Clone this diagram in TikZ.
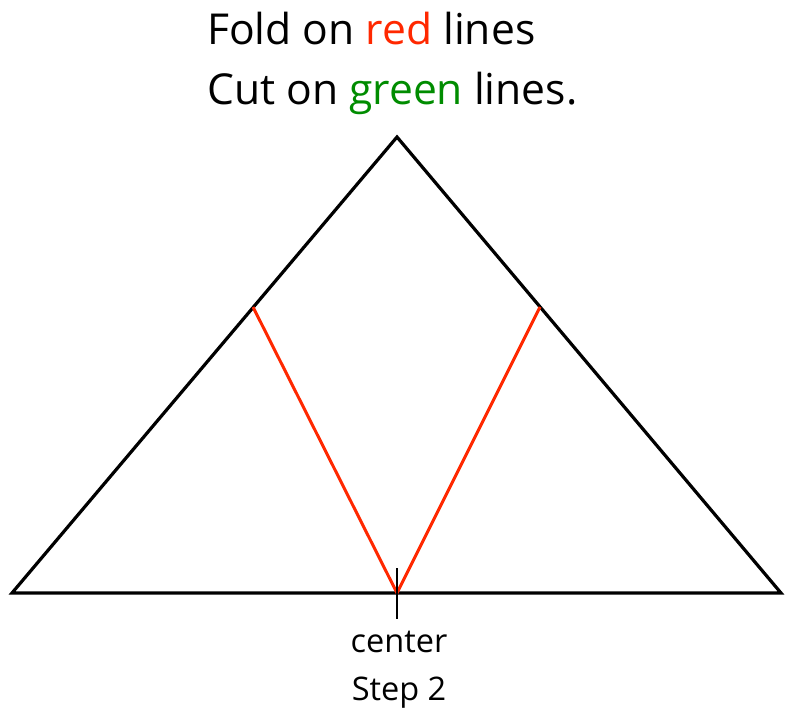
\documentclass[tikz,border=0pt]{standalone}
\usepackage{fontspec}
\setmainfont{Open Sans}
\definecolor{foldred}{RGB}{255,40,0}
\definecolor{cutgreen}{RGB}{0,140,0}
\begin{document}
\begin{tikzpicture}[x=1pt,y=-1pt,
  edge/.style={line width=3.2pt,black,line join=miter},
  fold/.style={line width=3pt,foldred},
  lbl/.style={inner sep=0pt,font=\fontsize{32.5}{32.5}\selectfont}]
\useasboundingbox (0,0) rectangle (793,709);
\coordinate (apex) at (397,137);
\coordinate (bl) at (12,593);
\coordinate (br) at (781,593);
\coordinate (ml) at (253,307);
\coordinate (mr) at (540,307);
\coordinate (c) at (397,593);
\coordinate (ctop) at (397,568);
\coordinate (cbot) at (397,619);
\draw[edge] (bl) -- (apex) -- (br) -- cycle;
\draw[fold] (ml) -- (c) -- (mr);
\draw[line width=2.6pt] (ctop) -- (cbot);
\node[lbl,anchor=base west,font=\fontsize{42.6}{42.6}\selectfont] (t1) at (207,45) {Fold on \textcolor{foldred}{red} lines};
\node[lbl,anchor=base west,font=\fontsize{42.6}{42.6}\selectfont] (t2) at (207,104) {Cut on \textcolor{cutgreen}{green} lines.};
\node[lbl,anchor=base] (cen) at (399,652) {center};
\node[lbl,anchor=base] (st) at (399,700) {Step 2};
\end{tikzpicture}
\end{document}
